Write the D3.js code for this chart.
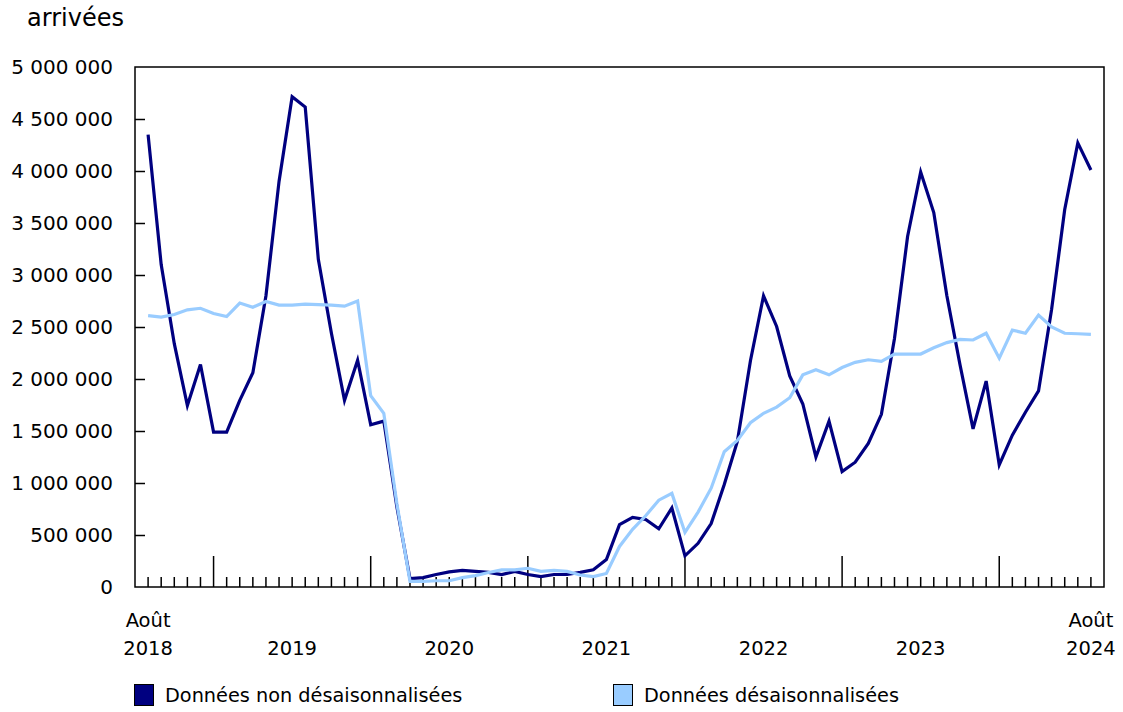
<!DOCTYPE html>
<html>
<head>
<meta charset="utf-8">
<script src="https://cdn.jsdelivr.net/npm/d3@7/dist/d3.min.js"></script>
<style>
  html, body { margin: 0; padding: 0; background: #fff; }
  svg { display: block; }
  text { font-family: "DejaVu Sans", Verdana, sans-serif; fill: #000; }
</style>
</head>
<body>
<svg id="chart" width="1123" height="712"></svg>
<script>
// Monthly data, August 2018 to August 2024 (73 months)
const startYear = 2018, startMonth = 7; // August (0-based)
const seriesNames = ["Données non désaisonnalisées", "Données désaisonnalisées"];
const nonAdjusted = [
  4350000, 3100000, 2340000, 1745000, 2140000,
  1490000, 1490000, 1795000, 2060000, 2800000, 3900000, 4715000, 4615000, 3150000, 2440000, 1795000, 2180000,
  1560000, 1595000, 770000, 80000, 90000, 120000, 145000, 160000, 150000, 140000, 120000, 150000,
  120000, 100000, 120000, 120000, 140000, 165000, 265000, 600000, 670000, 650000, 560000, 760000,
  300000, 420000, 610000, 985000, 1400000, 2175000, 2800000, 2505000, 2030000, 1760000, 1250000, 1595000,
  1110000, 1200000, 1380000, 1660000, 2390000, 3370000, 3990000, 3600000, 2800000, 2140000, 1520000, 1980000,
  1175000, 1460000, 1680000, 1885000, 2670000, 3630000, 4270000, 4010000
];
const seasonallyAdjusted = [
  2610000, 2595000, 2620000, 2665000, 2680000,
  2630000, 2600000, 2730000, 2690000, 2745000, 2710000, 2710000, 2720000, 2715000, 2710000, 2700000, 2750000,
  1840000, 1670000, 800000, 55000, 55000, 60000, 60000, 90000, 110000, 140000, 165000, 165000,
  180000, 150000, 160000, 150000, 115000, 100000, 130000, 390000, 555000, 685000, 835000, 900000,
  525000, 720000, 950000, 1300000, 1410000, 1580000, 1670000, 1730000, 1820000, 2040000, 2090000, 2040000,
  2110000, 2160000, 2185000, 2170000, 2240000, 2240000, 2240000, 2300000, 2350000, 2380000, 2375000, 2440000,
  2200000, 2470000, 2440000, 2615000, 2500000, 2440000, 2435000, 2430000
];
const yTicks = [0, 500000, 1000000, 1500000, 2000000, 2500000, 3000000, 3500000, 4000000, 4500000, 5000000];
const yearLabels = ["2019", "2020", "2021", "2022", "2023"];
const edgeLabels = [["Août", "2018"], ["Août", "2024"]];
const yUnit = "arrivées";
const colors = ["#000080", "#99CCFF"];

const svg = d3.select("#chart");
const L = 135, R = 1104, T = 67, B = 587;
const n = nonAdjusted.length;
const x = d3.scaleLinear().domain([-1, n]).range([L, R]);
const y = d3.scaleLinear().domain([0, 5000000]).range([B, T]);
const fmt = v => d3.format(",")(v).replace(/,/g, " ");

// Y axis ticks (inward) and labels
const yAxis = d3.axisRight(y).tickValues(yTicks.filter(v => v > 0 && v < 5000000)).tickSize(10).tickFormat("");
svg.append("g").attr("transform", `translate(${L},0)`).call(yAxis)
  .call(g => g.select(".domain").remove())
  .call(g => g.selectAll("line").attr("stroke", "#000").attr("stroke-width", 1.5));
svg.append("g").selectAll("text").data(yTicks).join("text")
  .attr("x", 113).attr("y", d => y(d)).attr("dy", "0.36em")
  .attr("text-anchor", "end").style("font-size", "20px").text(fmt);

svg.append("text").attr("x", 27).attr("y", 26).style("font-size", "24px").text(yUnit);

// X ticks: minor monthly, major at January
const idx = d3.range(n);
const isJan = i => (startMonth + i) % 12 === 0;
svg.append("g").selectAll("line").data(idx).join("line")
  .attr("x1", i => x(i)).attr("x2", i => x(i))
  .attr("y1", i => isJan(i) ? B - 31 : B - 10).attr("y2", B)
  .attr("stroke", "#000").attr("stroke-width", 1.5);

// Frame
svg.append("rect").attr("x", L).attr("y", T).attr("width", R - L).attr("height", B - T)
  .attr("fill", "none").attr("stroke", "#000").attr("stroke-width", 1.5);

// X labels
const janIdx = idx.filter(isJan);
svg.append("g").selectAll("text").data(yearLabels).join("text")
  .attr("x", (d, k) => x(janIdx[k] + 6)).attr("y", 655)
  .attr("text-anchor", "middle").style("font-size", "19.5px").text(d => d);
[[0, edgeLabels[0]], [n - 1, edgeLabels[1]]].forEach(([i, lab]) => {
  const t = svg.append("text").attr("x", x(i)).attr("text-anchor", "middle").style("font-size", "19.5px");
  t.append("tspan").attr("x", x(i)).attr("y", 627).text(lab[0]);
  t.append("tspan").attr("x", x(i)).attr("y", 655).text(lab[1]);
});

// Lines
const line = d3.line().x((d, i) => x(i)).y(d => y(d));
[nonAdjusted, seasonallyAdjusted].forEach((data, k) => {
  svg.append("path").datum(data).attr("d", line)
    .attr("fill", "none").attr("stroke", colors[k]).attr("stroke-width", 3.2)
    .attr("stroke-linejoin", "miter");
});

// Legend
const legX = [134, 613];
seriesNames.forEach((name, k) => {
  const g = svg.append("g").attr("transform", `translate(${legX[k]},684)`);
  g.append("rect").attr("x", 0.5).attr("y", 0.5).attr("width", 19).attr("height", 21)
    .attr("fill", colors[k]).attr("stroke", "#000").attr("stroke-width", 1);
  g.append("text").attr("x", 31).attr("y", 11).attr("dy", "0.36em").style("font-size", "19.3px").text(name);
});
</script>
</body>
</html>
